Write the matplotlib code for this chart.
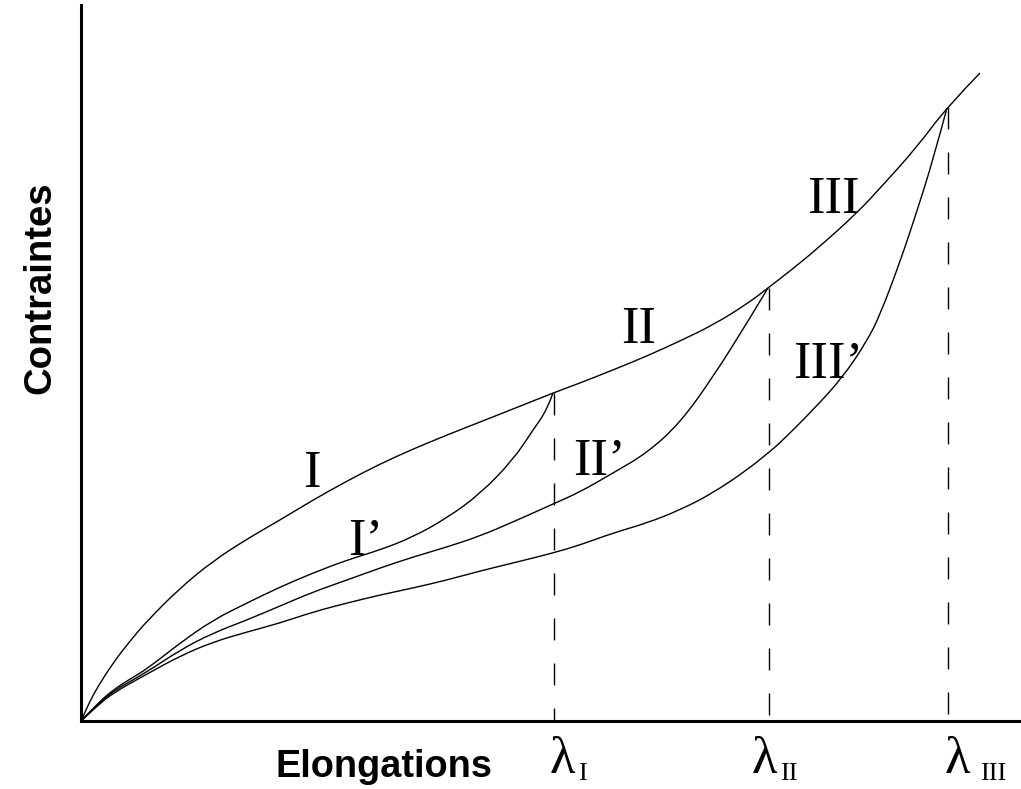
import matplotlib.pyplot as plt
from matplotlib.path import Path
from matplotlib.patches import PathPatch

# curve readings (origin = corner of the axes, units ~ pixels of the sketch)
x_main = [0, 8, 16, 32, 49, 66, 99, 132, 166, 199, 232, 266, 299, 332, 366, 399, 432, 472,
          499, 532, 566, 599, 632, 666, 687, 709, 736, 776, 802, 836, 866, 899]
y_main = [0, 18, 33, 58, 80, 100, 133, 160, 182, 201, 221, 240, 257, 272, 286, 299, 312, 328,
          338, 351, 365, 380, 396, 417, 433, 450, 472, 508, 536, 574, 614, 648]

x_I = [0, 16, 32, 49, 66, 99, 132, 166, 199, 232, 266, 299, 332, 366, 399, 432, 452, 466, 472]
y_I = [0, 17, 31, 42, 52, 78, 101, 118, 134, 148, 161, 171, 184, 203, 227, 261, 291, 311, 328]

x_II = [0, 16, 32, 66, 99, 132, 166, 199, 232, 266, 299, 332, 366, 399, 432, 472, 499,
        532, 566, 599, 632, 666, 687]
y_II = [0, 16, 30, 49, 71, 88, 101, 115, 129, 141, 153, 164, 174, 185, 199, 217, 229,
        248, 268, 298, 344, 398, 433]

x_III = [0, 16, 32, 66, 99, 132, 166, 199, 232, 266, 299, 332, 366, 399, 432, 472, 499,
         532, 566, 599, 632, 666, 687, 699, 732, 762, 786, 799, 819, 836, 852, 866]
y_III = [0, 15, 28, 47, 65, 79, 89, 98, 109, 118, 126, 133, 141, 150, 158, 168, 176,
         188, 198, 211, 228, 251, 268, 278, 311, 344, 380, 406, 459, 510, 561, 613]

lam_x = [473, 688, 867]
lam_top = [328, 433, 614]
lam_sub = ['I', 'II', 'III']
lam_text_x = [469, 671, 864]
lam_sub_x = [497, 699, 899]

labels = ['I', 'I\u2019', 'II', 'II\u2019', 'III', 'III\u2019']
label_x = [231, 285, 558, 518, 752, 747]
label_y = [234, 166, 378, 246, 508, 343]

serif = ['Liberation Serif', 'DejaVu Serif']
sans = ['Liberation Sans', 'DejaVu Sans']
W, H = 1021, 789


def smooth_curve(ax, xs, ys, lw=1.0):
    # quadratic bezier pieces with the read points as control points
    pts = list(zip(xs, ys))
    verts = [pts[0]]
    codes = [Path.MOVETO]
    for i in range(1, len(pts) - 2):
        mid = ((pts[i][0] + pts[i + 1][0]) / 2, (pts[i][1] + pts[i + 1][1]) / 2)
        verts += [pts[i], mid]
        codes += [Path.CURVE3, Path.CURVE3]
    verts += [pts[-2], pts[-1]]
    codes += [Path.CURVE3, Path.CURVE3]
    ax.add_patch(PathPatch(Path(verts, codes), facecolor='none', edgecolor='black', lw=lw))


fig = plt.figure(figsize=(W / 100, H / 100), dpi=100)
ax = fig.add_axes([81 / W, (H - 721) / H, 940 / W, 716 / H])

smooth_curve(ax, x_main, y_main)
smooth_curve(ax, x_I, y_I)
smooth_curve(ax, x_II, y_II)
smooth_curve(ax, x_III, y_III)

for xv, yt in zip(lam_x, lam_top):
    ax.plot([xv, xv], [yt, 0], color='black', lw=1.0, dashes=(15.8, 16.6))

for t, xv, yv in zip(labels, label_x, label_y):
    ax.text(xv, yv, t, family=serif, fontsize=38, ha='center', va='baseline')

for s, xt, xs in zip(lam_sub, lam_text_x, lam_sub_x):
    ax.text(xt, -52, '\u03bb', family=serif, fontsize=38, ha='left', va='baseline', clip_on=False)
    ax.text(xs, -59, s, family=serif, fontsize=19, ha='left', va='baseline', clip_on=False)

ax.set_xlim(0, 940)
ax.set_ylim(0, 716)
ax.spines['top'].set_visible(False)
ax.spines['right'].set_visible(False)
ax.spines['left'].set_linewidth(2.2)
ax.spines['bottom'].set_linewidth(2.2)
ax.set_xticks([])
ax.set_yticks([])

fig.text(384 / W, 1 - 777 / H, 'Elongations', family=sans,
         fontweight='bold', fontsize=27.3, ha='center', va='baseline')
fig.text(40 / W, 1 - 288 / H, 'Contraintes', family=sans,
         fontweight='bold', fontsize=27.5, rotation=90, ha='center', va='center')

plt.savefig('out.png', dpi=100)
